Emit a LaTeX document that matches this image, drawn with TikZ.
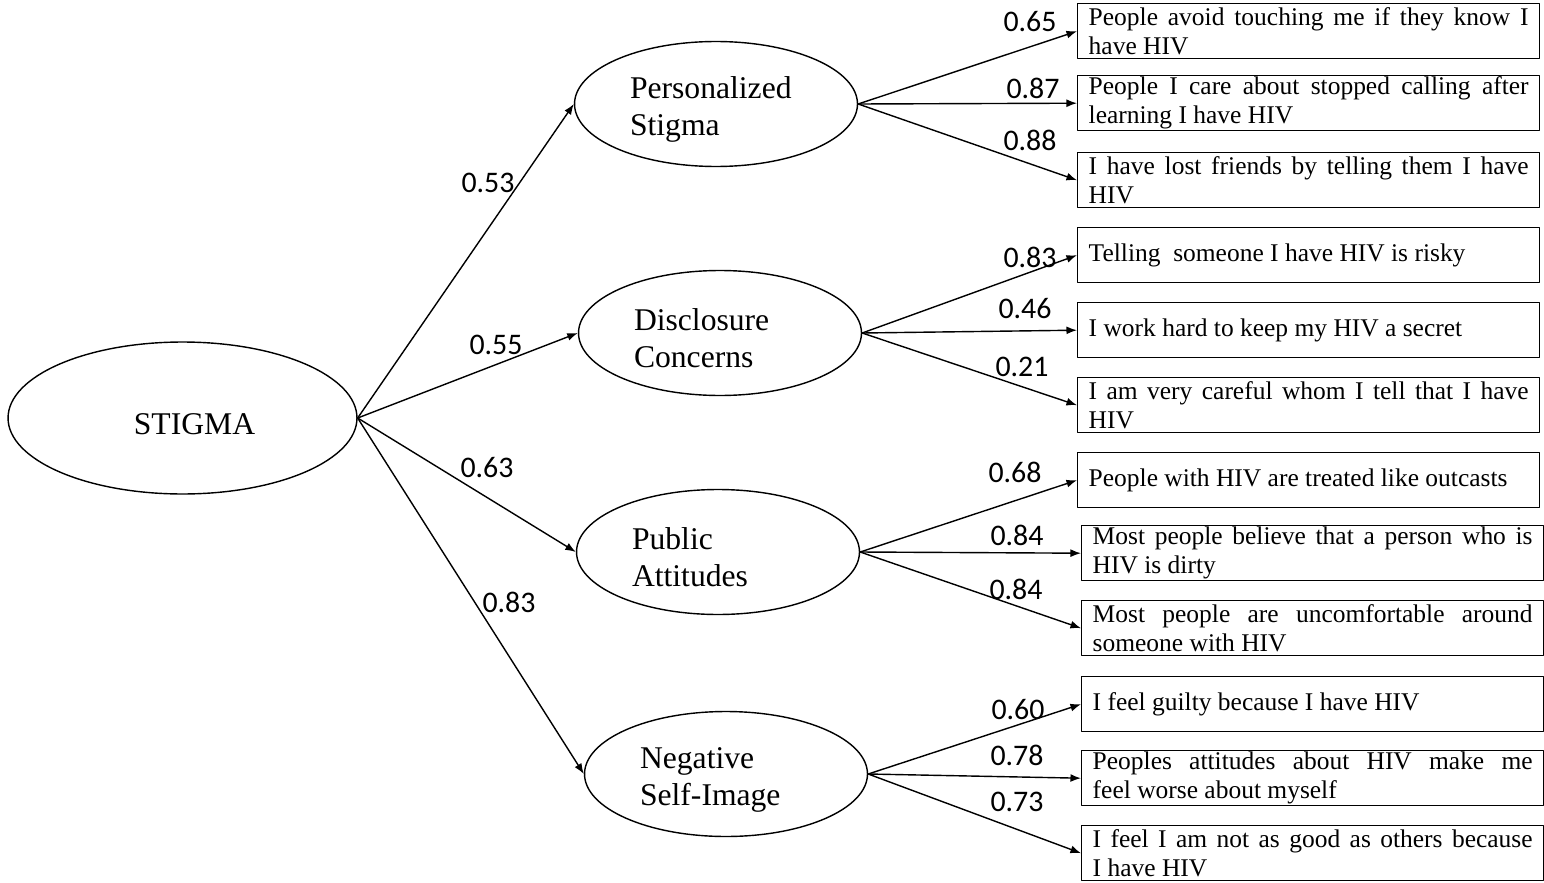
\documentclass[tikz,border=0pt]{standalone}
\usepackage{fontspec}
\setmainfont{Liberation Serif}
\newfontfamily\lblfont{Carlito}
\usetikzlibrary{shapes.geometric,arrows.meta}

\begin{document}
\begin{tikzpicture}[x=0.02cm, y=-0.02cm, line width=0.8pt, line join=round, >={Latex[length=6pt,width=4.5pt]},
	factor/.style={draw, ellipse, inner sep=0pt, minimum width=5.66cm, minimum height=2.5cm, text width=3.44cm, text height=0.66cm, align=left, font=\fontsize{18}{21}\selectfont},
	itembox/.style={draw, anchor=north west, inner xsep=0.22cm, inner ysep=0.5pt, text width=8.8cm, minimum height=1.1cm, align=justify, font=\fontsize{14.5}{16.5}\selectfont},
	coef/.style={inner sep=0pt, font=\lblfont\fontsize{17}{20}\selectfont}]
\useasboundingbox (0,0) rectangle (1544,882);
% latent factors
\node[draw, ellipse, inner sep=0pt, minimum width=6.98cm, minimum height=3.04cm, text height=0.66cm, font=\fontsize{18}{21}\selectfont] (stigma) at (182.5,418) {\hspace*{0.48cm}STIGMA};
\node[factor] (pers) at (716,104) {Personalized\\Stigma};
\node[factor] (disc) at (720,333) {Disclosure\\Concerns};
\node[factor] (publ) at (718,552) {Public\\Attitudes};
\node[factor] (nega) at (726,774) {Negative\\Self-Image};
% items
\node[itembox] (b1) at (1077,3) {People avoid touching me if they know I\linebreak have HIV};
\node[itembox] (b2) at (1077,75) {People I care about stopped calling after\linebreak learning I have HIV};
\node[itembox] (b3) at (1077,152) {I have lost friends by telling them I have\linebreak HIV};
\node[itembox] (b4) at (1077,227) {Telling\ \ someone I have HIV is risky};
\node[itembox] (b5) at (1077,302) {I work hard to keep my HIV a secret};
\node[itembox] (b6) at (1077,377) {I am very careful whom I tell that I have\linebreak HIV};
\node[itembox] (b7) at (1077,452) {People with HIV are treated like outcasts};
\node[itembox] (b8) at (1081,525) {Most people believe that a person who is\linebreak HIV is dirty};
\node[itembox] (b9) at (1081,600) {Most people are uncomfortable around\linebreak someone with HIV};
\node[itembox] (b10) at (1081,676) {I feel guilty because I have HIV};
\node[itembox] (b11) at (1081,750) {Peoples attitudes about HIV make me\linebreak feel worse about myself};
\node[itembox] (b12) at (1081,825) {I feel I am not as good as others because\linebreak I have HIV};
% paths
\foreach \f in {pers,disc,publ,nega}
	\draw[->] (stigma.east) -- (\f.west);
\foreach \f/\b in {pers/b1,pers/b2,pers/b3,disc/b4,disc/b5,disc/b6,publ/b7,publ/b8,publ/b9,nega/b10,nega/b11,nega/b12}
	\draw[->] (\f.east) -- (\b.west);
% loadings
\foreach \v/\x/\y [count=\i] in {0.53/488/183, 0.55/496/345, 0.63/487/468, 0.83/509/602,
	0.65/1030/22, 0.87/1033/88, 0.88/1030/140, 0.83/1030/257, 0.46/1025/309, 0.21/1022/367,
	0.68/1015/472, 0.84/1017/535, 0.84/1016/589, 0.60/1018/710, 0.78/1017/755, 0.73/1017/802}
	\node[coef] (c\i) at (\x,\y) {\v};
\end{tikzpicture}
\end{document}
